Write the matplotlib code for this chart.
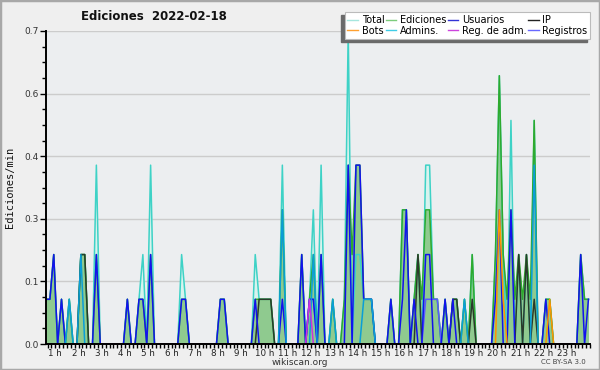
import numpy as np
import matplotlib
matplotlib.use("Agg")
import matplotlib.pyplot as plt
from matplotlib.lines import Line2D
from matplotlib.patches import Rectangle
from matplotlib.ticker import MultipleLocator, FormatStrFormatter

# 10-minute slots counted from the start of the window, values in edits per minute
n_slots = 141
start_h = 0.6

total_slots = [0, 1, 2, 4, 6, 9, 10, 13, 21, 24, 25, 27, 35, 36, 45, 46, 54, 55, 56, 57, 58,
               61, 66, 68, 69, 71, 74, 77, 78, 80, 81, 82, 83, 84, 89, 92, 93, 95, 96, 98, 99,
               100, 101, 103, 105, 106, 108, 110, 116, 117, 118, 120, 122, 124, 126, 129, 130,
               138, 139, 140]
total_vals = [0.1, 0.1, 0.2, 0.1, 0.1, 0.2, 0.2, 0.4, 0.1, 0.1, 0.2, 0.4, 0.2, 0.1, 0.1, 0.1, 0.2, 0.1, 0.1, 0.1, 0.1,
              0.4, 0.2, 0.1, 0.3, 0.4, 0.1, 0.1, 0.7, 0.2, 0.2, 0.1, 0.1, 0.1, 0.1, 0.3, 0.3, 0.1, 0.2, 0.4, 0.4,
              0.1, 0.1, 0.1, 0.1, 0.1, 0.1, 0.2, 0.2, 0.6, 0.2, 0.5, 0.2, 0.2, 0.5, 0.1, 0.1,
              0.2, 0.1, 0.1]

ediciones_slots = [0, 1, 2, 4, 6, 9, 10, 13, 21, 24, 25, 27, 35, 36, 45, 46, 54, 55, 56, 57, 58,
                   61, 66, 68, 69, 71, 74, 77, 78, 79, 80, 81, 82, 83, 84, 89, 92, 93, 95, 96, 97, 98, 99,
                   100, 101, 103, 105, 106, 108, 110, 116, 117, 118, 119, 120, 121, 122, 123, 124, 125,
                   126, 129, 130, 138, 139, 140]
ediciones_vals = [0.1, 0.1, 0.2, 0.1, 0.1, 0.2, 0.2, 0.2, 0.1, 0.1, 0.1, 0.2, 0.1, 0.1, 0.1, 0.1, 0.1, 0.1, 0.1, 0.1, 0.1,
                  0.3, 0.2, 0.1, 0.2, 0.2, 0.1, 0.1, 0.4, 0.2, 0.4, 0.4, 0.1, 0.1, 0.1, 0.1, 0.3, 0.3, 0.1, 0.2, 0.1, 0.3, 0.3,
                  0.1, 0.1, 0.1, 0.1, 0.1, 0.1, 0.2, 0.2, 0.6, 0.2, 0.1, 0.3, 0.1, 0.2, 0.1, 0.2, 0.1,
                  0.5, 0.1, 0.1, 0.2, 0.1, 0.1]

usuarios_slots = [0, 1, 2, 4, 13, 21, 24, 25, 27, 35, 36, 45, 46, 54, 61, 66, 68, 69, 71, 78, 80, 81,
                  82, 83, 84, 89, 92, 93, 95, 98, 99, 103, 105, 116, 117, 120, 129, 138, 140]
usuarios_vals = [0.1, 0.1, 0.2, 0.1, 0.2, 0.1, 0.1, 0.1, 0.2, 0.1, 0.1, 0.1, 0.1, 0.1, 0.1, 0.2, 0.1, 0.1, 0.2, 0.4, 0.4, 0.4,
                 0.1, 0.1, 0.1, 0.1, 0.1, 0.3, 0.1, 0.2, 0.2, 0.1, 0.1, 0.1, 0.3, 0.3, 0.1, 0.2, 0.1]

ip_slots = [9, 10, 55, 56, 57, 58, 96, 105, 106, 110, 122, 124, 126]
ip_vals = [0.2, 0.2, 0.1, 0.1, 0.1, 0.1, 0.2, 0.1, 0.1, 0.1, 0.2, 0.2, 0.1]

bots_slots = [117, 118, 130]
bots_vals = [0.3, 0.1, 0.1]

admins_slots = [6, 9, 61, 69, 74, 82, 83, 84, 108, 126]
admins_vals = [0.1, 0.2, 0.3, 0.2, 0.1, 0.1, 0.1, 0.1, 0.1, 0.4]

regadm_slots = [68]
regadm_vals = [0.1]

registros_slots = [68, 69, 98, 99, 100, 101]
registros_vals = [0.1, 0.1, 0.1, 0.1, 0.1, 0.1]

hours = list(range(1, 24))
hour_labels = [f"{h} h" for h in hours]

legend_labels = ["Total", "Bots", "Ediciones", "Admins.", "Usuarios", "Reg. de adm.", "IP", "Registros"]
legend_colors = ["#a6e6de", "#ffa030", "#7ccc7c", "#40cce6", "#3333d6", "#cc44dd", "#222222", "#6868ff"]


def series(slots, vals):
    y = np.zeros(n_slots)
    y[slots] = vals
    return y


t = start_h + np.arange(n_slots) / 6

fig = plt.figure(figsize=(6, 3.7), dpi=100, facecolor="#efefef")
ax = fig.add_axes([46 / 600, 26 / 370, 544 / 600, 313 / 370])
ax.set_facecolor("#eceef0")

ax.fill_between(t, series(total_slots, total_vals), color="#d8f3ee", lw=0)
ax.fill_between(t, series(ediciones_slots, ediciones_vals), color="#8fca8f", lw=0)

ax.plot(t, series(total_slots, total_vals), color="#3ed2c6", lw=1.1)
ax.plot(t, series(ediciones_slots, ediciones_vals), color="#2eaa2e", lw=1.1)
ax.plot(t, series(ip_slots, ip_vals), color="#2a3a2a", lw=1.1)
ax.plot(t, series(registros_slots, registros_vals), color="#5a5aff", lw=1.1)
ax.plot(t, series(usuarios_slots, usuarios_vals), color="#1212ee", lw=1.1)
ax.plot(t, series(admins_slots, admins_vals), color="#0a9ed8", lw=1.1)
ax.plot(t, series(bots_slots, bots_vals), color="#ff9400", lw=1.1)
ax.plot(t, series(regadm_slots, regadm_vals), color="#cc33dd", lw=1.1)

ax.set_xlim(start_h, 24)
ax.set_ylim(0, 0.7)
ax.set_yticks(np.arange(0, 0.71, 0.14))
ax.yaxis.set_major_formatter(FormatStrFormatter("%.1f"))
ax.yaxis.set_minor_locator(MultipleLocator(0.035))
ax.set_xticks(hours)
ax.set_xticklabels(hour_labels)
ax.xaxis.set_minor_locator(MultipleLocator(1 / 6))
ax.yaxis.grid(True, color="#cccccc", lw=1)
ax.set_axisbelow(True)

for s in ["top", "right"]:
    ax.spines[s].set_visible(False)
for s in ["left", "bottom"]:
    ax.spines[s].set_linewidth(1.4)
    ax.spines[s].set_zorder(3)

ax.tick_params(which="both", direction="out", length=3, width=1, colors="black")
ax.tick_params(axis="x", labelsize=6.3, pad=0.5, labelcolor="#222222")
ax.tick_params(axis="y", labelsize=6.5, pad=1, labelcolor="#333333")
ax.tick_params(axis="y", which="major", length=4)

fig.text(154 / 600, 1 - 16 / 370, "Ediciones  2022-02-18", weight="bold", fontsize=8.5,
         ha="center", va="center", color="#111111")
fig.text(10 / 600, 1 - 187.5 / 370, "Ediciones/min", rotation=90, family="DejaVu Sans Mono",
         fontsize=7.5, ha="center", va="center", color="#111111")
fig.text(300 / 600, 1 - 362.5 / 370, "wikiscan.org", fontsize=6.5, ha="center", va="center", color="#333333")
fig.text(563 / 600, 1 - 362.5 / 370, "CC BY-SA 3.0", fontsize=5, ha="center", va="center", color="#444444")

handles = [Line2D([], [], color=c, lw=1) for c in legend_colors]
leg = ax.legend(handles, legend_labels, ncol=4, loc="upper right",
                bbox_to_anchor=(590 / 600, 1 - 12 / 370), bbox_transform=fig.transFigure,
                fontsize=7, frameon=True, fancybox=False, edgecolor="#bbbbbb", facecolor="white",
                framealpha=1, handlelength=1.1, handletextpad=0.35, columnspacing=0.15,
                labelspacing=0.1, borderpad=0.3, borderaxespad=0)
leg.get_frame().set_linewidth(0.8)
leg.set_zorder(6)

fig.canvas.draw()
bb = leg.get_window_extent()
W, H = fig.bbox.width, fig.bbox.height
ax.add_patch(Rectangle(((bb.x0 - 3.5) / W, (bb.y0 - 3.5) / H), bb.width / W, bb.height / H,
                       transform=fig.transFigure, clip_on=False, color="#6a6a6a", zorder=5.5))

fig.add_artist(Rectangle((0, 0), 1, 1, transform=fig.transFigure, fill=False,
                         edgecolor="#a8a8a8", lw=2.5))

fig.savefig("out.png", dpi=100, facecolor=fig.get_facecolor())
